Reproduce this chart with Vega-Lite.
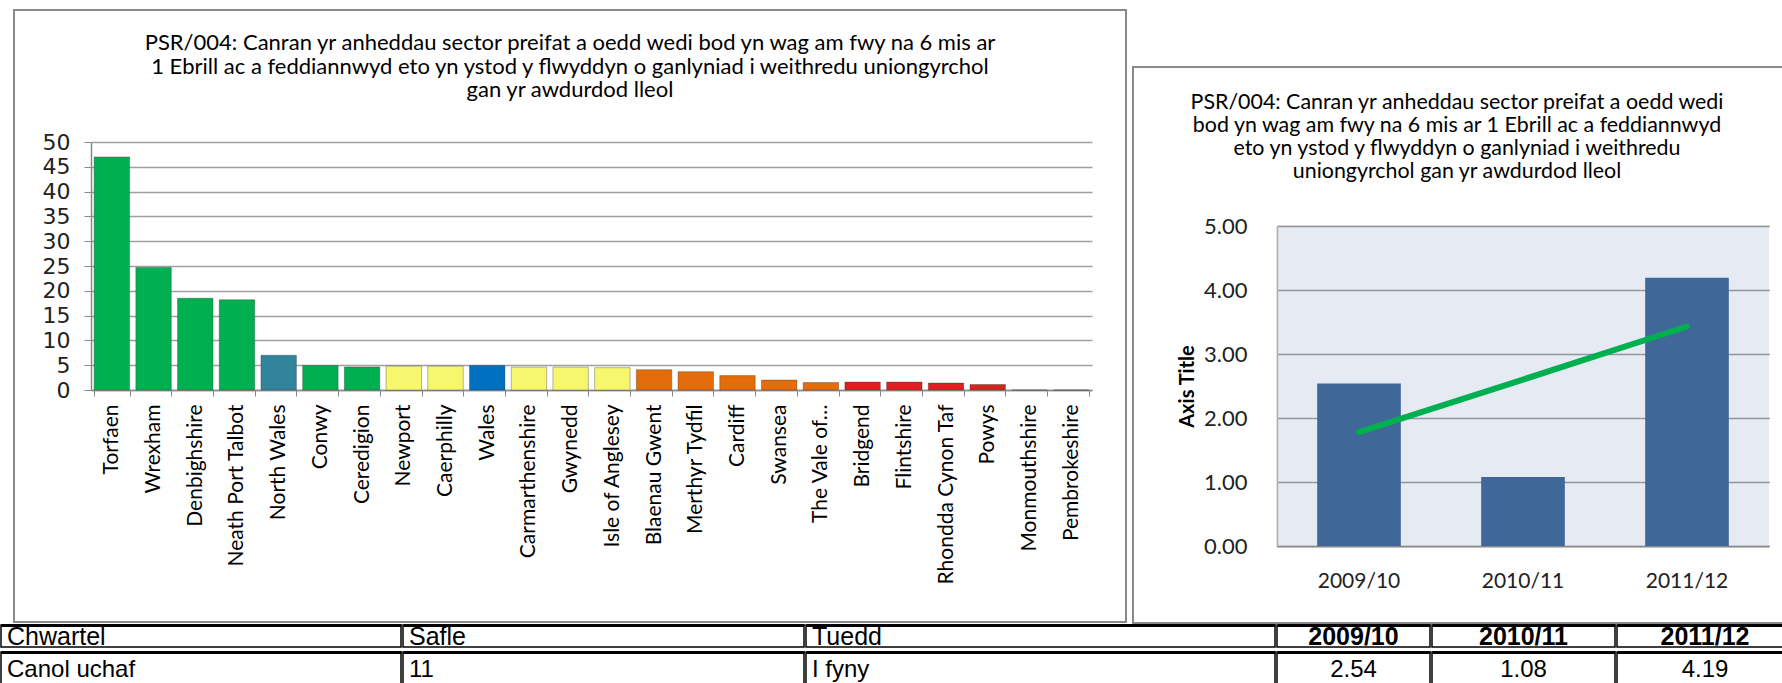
{
  "$schema": "https://vega.github.io/schema/vega-lite/v6.json",
  "padding": {"top": 9, "left": 0, "right": 0, "bottom": 0},
  "background": "white",
  "config": {"font": "Lato", "view": {"stroke": null}},
  "datasets": {
    "la": [
      {"area": "Torfaen", "value": 47.0, "group": "Chwartel uchaf"},
      {"area": "Wrexham", "value": 24.7, "group": "Chwartel uchaf"},
      {"area": "Denbighshire", "value": 18.5, "group": "Chwartel uchaf"},
      {"area": "Neath Port Talbot", "value": 18.2, "group": "Chwartel uchaf"},
      {"area": "North Wales", "value": 7.0, "group": "North Wales"},
      {"area": "Conwy", "value": 4.95, "group": "Chwartel uchaf"},
      {"area": "Ceredigion", "value": 4.65, "group": "Chwartel uchaf"},
      {"area": "Newport", "value": 4.8, "group": "Canol uchaf"},
      {"area": "Caerphilly", "value": 4.8, "group": "Canol uchaf"},
      {"area": "Wales", "value": 4.95, "group": "Wales"},
      {"area": "Carmarthenshire", "value": 4.6, "group": "Canol uchaf"},
      {"area": "Gwynedd", "value": 4.6, "group": "Canol uchaf"},
      {"area": "Isle of Anglesey", "value": 4.5, "group": "Canol uchaf"},
      {"area": "Blaenau Gwent", "value": 4.1, "group": "Canol isaf"},
      {"area": "Merthyr Tydfil", "value": 3.7, "group": "Canol isaf"},
      {"area": "Cardiff", "value": 2.9, "group": "Canol isaf"},
      {"area": "Swansea", "value": 2.0, "group": "Canol isaf"},
      {"area": "The Vale of…", "value": 1.5, "group": "Canol isaf"},
      {"area": "Bridgend", "value": 1.6, "group": "Chwartel isaf"},
      {"area": "Flintshire", "value": 1.6, "group": "Chwartel isaf"},
      {"area": "Rhondda Cynon Taf", "value": 1.4, "group": "Chwartel isaf"},
      {"area": "Powys", "value": 1.1, "group": "Chwartel isaf"},
      {"area": "Monmouthshire", "value": 0, "group": "Chwartel isaf"},
      {"area": "Pembrokeshire", "value": 0, "group": "Chwartel isaf"}
    ],
    "ps": [
      {"period": "2009/10", "value": 2.54, "trend": 1.78},
      {"period": "2010/11", "value": 1.08, "trend": 2.60},
      {"period": "2011/12", "value": 4.19, "trend": 3.43}
    ],
    "table": [
      {"col": "c1", "row": "h", "text": "Chwartel"},
      {"col": "c1", "row": "v", "text": "Canol uchaf"},
      {"col": "c2", "row": "h", "text": "Safle"},
      {"col": "c2", "row": "v", "text": "11"},
      {"col": "c3", "row": "h", "text": "Tuedd"},
      {"col": "c3", "row": "v", "text": "I fyny"},
      {"col": "c4", "row": "h", "text": "2009/10"},
      {"col": "c4", "row": "v", "text": "2.54"},
      {"col": "c5", "row": "h", "text": "2010/11"},
      {"col": "c5", "row": "v", "text": "1.08"},
      {"col": "c6", "row": "h", "text": "2011/12"},
      {"col": "c6", "row": "v", "text": "4.19"}
    ],
    "blank": [{"t": ""}]
  },
  "spacing": 0,
  "vconcat": [
    {
      "spacing": 5,
      "hconcat": [
        {
          "spacing": 0,
          "hconcat": [
            {
              "width": 1, "height": 10,
              "data": {"name": "blank"},
              "mark": {"type": "text"},
              "encoding": {"text": {"field": "t"}}
            },
            {
              "width": 1112, "height": 612,
              "view": {"stroke": "#8A8A8A", "strokeWidth": 2},
              "title": {
                "text": [
                  "PSR/004: Canran yr anheddau sector preifat a oedd wedi bod yn wag am fwy na 6 mis ar",
                  "1 Ebrill ac a feddiannwyd eto yn ystod y flwyddyn o ganlyniad i weithredu uniongyrchol",
                  "gan yr awdurdod lleol"
                ],
                "offset": -92, "anchor": "middle", "frame": "group",
                "font": "Lato", "fontSize": 22, "fontWeight": "normal", "lineHeight": 23.5, "color": "#000"
              },
              "data": {"name": "la"},
              "mark": {"type": "bar", "stroke": "#333", "strokeOpacity": 0.35, "strokeWidth": 1},
              "encoding": {
                "x": {
                  "field": "area", "type": "nominal", "sort": null,
                  "scale": {"range": [77, 1078], "paddingInner": 0.15, "paddingOuter": 0.075},
                  "axis": {
                    "title": null, "orient": "bottom", "offset": -232, "labelAngle": -90,
                    "labelFont": "Lato", "labelFontSize": 21, "labelColor": "#000", "labelPadding": 8,
                    "labelLimit": 400, "labelOverlap": false, "tickBand": "extent", "tickSize": 6,
                    "tickColor": "#888", "domainColor": "#888", "domainWidth": 1.5, "grid": false
                  }
                },
                "y": {
                  "field": "value", "type": "quantitative",
                  "scale": {"domain": [0, 50], "range": [380, 132], "nice": false},
                  "axis": {
                    "title": null, "offset": -77, "values": [0, 5, 10, 15, 20, 25, 30, 35, 40, 45, 50],
                    "grid": true, "gridColor": "#A0A0A0", "gridWidth": 1.5, "tickSize": 7,
                    "tickColor": "#888", "domainColor": "#888", "domainWidth": 1.5,
                    "labelFont": "DejaVu Sans", "labelFontSize": 22, "labelColor": "#222", "labelPadding": 14, "zindex": 0
                  }
                },
                "color": {
                  "field": "group", "type": "nominal",
                  "scale": {
                    "domain": ["Chwartel uchaf", "North Wales", "Canol uchaf", "Wales", "Canol isaf", "Chwartel isaf"],
                    "range": ["#00B050", "#31849B", "#F7F76E", "#0070C0", "#E46C0A", "#DD2020"]
                  },
                  "legend": null
                }
              }
            }
          ]
        },
        {
          "spacing": 0,
          "vconcat": [
            {
              "width": 692, "height": 56,
              "data": {"name": "blank"},
              "mark": {"type": "text"},
              "encoding": {"text": {"field": "t"}}
            },
            {
              "width": 692, "height": 556,
              "view": {"stroke": "#8A8A8A", "strokeWidth": 2},
              "title": {
                "text": [
                  "PSR/004: Canran yr anheddau sector preifat a oedd wedi",
                  "bod yn wag am fwy na 6 mis ar 1 Ebrill ac a feddiannwyd",
                  "eto yn ystod y flwyddyn o ganlyniad i weithredu",
                  "uniongyrchol gan yr awdurdod lleol"
                ],
                "offset": -115, "dx": -22, "anchor": "middle", "frame": "group",
                "font": "Lato", "fontSize": 21.4, "fontWeight": "normal", "lineHeight": 23, "color": "#000"
              },
              "data": {"name": "ps"},
              "resolve": {"scale": {"x": "independent"}},
              "layer": [
                {
                  "mark": {"type": "rect", "fill": "#CDD7E7", "opacity": 0.5},
                  "encoding": {
                    "x": {"field": "period", "type": "nominal", "scale": {"range": [144, 636], "paddingInner": 0, "paddingOuter": 0}, "axis": null},
                    "y": {
                      "datum": 5, "type": "quantitative",
                      "scale": {"domain": [0, 5], "range": [479, 159], "nice": false},
                      "axis": {
                        "title": "Axis Title", "offset": -144, "values": [0, 1, 2, 3, 4, 5], "format": ".2f",
                        "grid": true, "gridColor": "#555", "gridWidth": 1.5, "ticks": false,
                        "domainColor": "#888", "domainWidth": 1.5, "zindex": 0,
                        "labelFont": "Lato", "labelFontSize": 22, "labelColor": "#222", "labelPadding": 30,
                        "titleFont": "Lato", "titleFontSize": 20, "titleFontWeight": "bold", "titleColor": "#000", "titlePadding": 6
                      }
                    },
                    "y2": {"datum": 0}
                  }
                },
                {
                  "encoding": {
                    "x": {
                      "field": "period", "type": "nominal",
                      "scale": {"range": [144, 636], "paddingInner": 0.49, "paddingOuter": 0.245},
                      "axis": {
                        "title": null, "orient": "bottom", "offset": -77, "labelAngle": 0,
                        "labelFont": "Lato", "labelFontSize": 21, "labelColor": "#222", "labelPadding": 24,
                        "ticks": false, "domainColor": "#888", "domainWidth": 1.5
                      }
                    }
                  },
                  "layer": [
                    {
                      "mark": {"type": "bar", "fill": "#3F6797"},
                      "encoding": {
                        "y": {
                          "field": "value", "type": "quantitative",
                          "scale": {"domain": [0, 5], "range": [479, 159], "nice": false},
                          "axis": {
                            "title": "Axis Title", "offset": -144, "values": [0, 1, 2, 3, 4, 5], "format": ".2f",
                            "grid": true, "gridColor": "#555", "gridWidth": 1.5, "ticks": false,
                            "domainColor": "#888", "domainWidth": 1.5, "zindex": 0,
                            "labelFont": "Lato", "labelFontSize": 22, "labelColor": "#222", "labelPadding": 30,
                            "titleFont": "Lato", "titleFontSize": 20, "titleFontWeight": "bold", "titleColor": "#000", "titlePadding": 6
                          }
                        }
                      }
                    },
                    {
                      "mark": {"type": "line", "color": "#00B050", "strokeWidth": 6, "strokeCap": "round"},
                      "encoding": {
                        "y": {"field": "trend", "type": "quantitative"}
                      }
                    }
                  ]
                }
              ]
            }
          ]
        }
      ]
    },
    {
      "spacing": 0,
      "data": {"name": "table"},
      "vconcat": [
        {
          "spacing": 0,
          "hconcat": [
            {
              "width": 400, "height": 22, "view": {"stroke": "#000", "strokeWidth": 1.5},
              "transform": [{"filter": "datum.col == 'c1' && datum.row == 'h'"}],
              "mark": {"type": "text", "align": "left", "dx": -194, "dy": 1, "baseline": "middle", "font": "Liberation Sans", "fontSize": 25, "color": "#000"},
              "encoding": {
                "x": {"field": "col", "type": "nominal", "scale": {"paddingInner": 0, "paddingOuter": 0},
                      "axis": {"orient": "top", "title": null, "labels": false, "ticks": false, "grid": false, "domainColor": "#000", "domainWidth": 3}},
                "text": {"field": "text"}
              }
            },
            {
              "width": 401, "height": 22, "view": {"stroke": "#000", "strokeWidth": 1.5},
              "transform": [{"filter": "datum.col == 'c2' && datum.row == 'h'"}],
              "mark": {"type": "text", "align": "left", "dx": -194.5, "dy": 1, "baseline": "middle", "font": "Liberation Sans", "fontSize": 25, "color": "#000"},
              "encoding": {
                "x": {"field": "col", "type": "nominal", "scale": {"paddingInner": 0, "paddingOuter": 0},
                      "axis": {"orient": "top", "title": null, "labels": false, "ticks": false, "grid": false, "domainColor": "#000", "domainWidth": 3}},
                "text": {"field": "text"}
              }
            },
            {
              "width": 469, "height": 22, "view": {"stroke": "#000", "strokeWidth": 1.5},
              "transform": [{"filter": "datum.col == 'c3' && datum.row == 'h'"}],
              "mark": {"type": "text", "align": "left", "dx": -228.5, "dy": 1, "baseline": "middle", "font": "Liberation Sans", "fontSize": 25, "color": "#000"},
              "encoding": {
                "x": {"field": "col", "type": "nominal", "scale": {"paddingInner": 0, "paddingOuter": 0},
                      "axis": {"orient": "top", "title": null, "labels": false, "ticks": false, "grid": false, "domainColor": "#000", "domainWidth": 3}},
                "text": {"field": "text"}
              }
            },
            {
              "width": 153, "height": 22, "view": {"stroke": "#000", "strokeWidth": 1.5},
              "transform": [{"filter": "datum.col == 'c4' && datum.row == 'h'"}],
              "mark": {"type": "text", "align": "center", "dy": 1, "baseline": "middle", "font": "Liberation Sans", "fontSize": 25, "fontWeight": "bold", "color": "#000"},
              "encoding": {
                "x": {"field": "col", "type": "nominal", "scale": {"paddingInner": 0, "paddingOuter": 0},
                      "axis": {"orient": "top", "title": null, "labels": false, "ticks": false, "grid": false, "domainColor": "#000", "domainWidth": 3}},
                "text": {"field": "text"}
              }
            },
            {
              "width": 183, "height": 22, "view": {"stroke": "#000", "strokeWidth": 1.5},
              "transform": [{"filter": "datum.col == 'c5' && datum.row == 'h'"}],
              "mark": {"type": "text", "align": "center", "dy": 1, "baseline": "middle", "font": "Liberation Sans", "fontSize": 25, "fontWeight": "bold", "color": "#000"},
              "encoding": {
                "x": {"field": "col", "type": "nominal", "scale": {"paddingInner": 0, "paddingOuter": 0},
                      "axis": {"orient": "top", "title": null, "labels": false, "ticks": false, "grid": false, "domainColor": "#000", "domainWidth": 3}},
                "text": {"field": "text"}
              }
            },
            {
              "width": 176, "height": 22, "view": {"stroke": "#000", "strokeWidth": 1.5},
              "transform": [{"filter": "datum.col == 'c6' && datum.row == 'h'"}],
              "mark": {"type": "text", "align": "center", "dy": 1, "baseline": "middle", "font": "Liberation Sans", "fontSize": 25, "fontWeight": "bold", "color": "#000"},
              "encoding": {
                "x": {"field": "col", "type": "nominal", "scale": {"paddingInner": 0, "paddingOuter": 0},
                      "axis": {"orient": "top", "title": null, "labels": false, "ticks": false, "grid": false, "domainColor": "#000", "domainWidth": 3}},
                "text": {"field": "text"}
              }
            }
          ]
        },
        {
          "spacing": 0,
          "hconcat": [
            {
              "width": 400, "height": 36, "view": {"stroke": "#000", "strokeWidth": 1.5},
              "transform": [{"filter": "datum.col == 'c1' && datum.row == 'v'"}],
              "mark": {"type": "text", "align": "left", "dx": -194, "baseline": "middle", "font": "Liberation Sans", "fontSize": 24, "color": "#000"},
              "encoding": {
                "x": {"field": "col", "type": "nominal", "scale": {"paddingInner": 0, "paddingOuter": 0},
                      "axis": {"orient": "top", "title": null, "labels": false, "ticks": false, "grid": false, "domainColor": "#000", "domainWidth": 3}},
                "text": {"field": "text"}
              }
            },
            {
              "width": 401, "height": 36, "view": {"stroke": "#000", "strokeWidth": 1.5},
              "transform": [{"filter": "datum.col == 'c2' && datum.row == 'v'"}],
              "mark": {"type": "text", "align": "left", "dx": -194.5, "baseline": "middle", "font": "Liberation Sans", "fontSize": 24, "color": "#000"},
              "encoding": {
                "x": {"field": "col", "type": "nominal", "scale": {"paddingInner": 0, "paddingOuter": 0},
                      "axis": {"orient": "top", "title": null, "labels": false, "ticks": false, "grid": false, "domainColor": "#000", "domainWidth": 3}},
                "text": {"field": "text"}
              }
            },
            {
              "width": 469, "height": 36, "view": {"stroke": "#000", "strokeWidth": 1.5},
              "transform": [{"filter": "datum.col == 'c3' && datum.row == 'v'"}],
              "mark": {"type": "text", "align": "left", "dx": -228.5, "baseline": "middle", "font": "Liberation Sans", "fontSize": 24, "color": "#000"},
              "encoding": {
                "x": {"field": "col", "type": "nominal", "scale": {"paddingInner": 0, "paddingOuter": 0},
                      "axis": {"orient": "top", "title": null, "labels": false, "ticks": false, "grid": false, "domainColor": "#000", "domainWidth": 3}},
                "text": {"field": "text"}
              }
            },
            {
              "width": 153, "height": 36, "view": {"stroke": "#000", "strokeWidth": 1.5},
              "transform": [{"filter": "datum.col == 'c4' && datum.row == 'v'"}],
              "mark": {"type": "text", "align": "center", "baseline": "middle", "font": "Liberation Sans", "fontSize": 24, "color": "#000"},
              "encoding": {
                "x": {"field": "col", "type": "nominal", "scale": {"paddingInner": 0, "paddingOuter": 0},
                      "axis": {"orient": "top", "title": null, "labels": false, "ticks": false, "grid": false, "domainColor": "#000", "domainWidth": 3}},
                "text": {"field": "text"}
              }
            },
            {
              "width": 183, "height": 36, "view": {"stroke": "#000", "strokeWidth": 1.5},
              "transform": [{"filter": "datum.col == 'c5' && datum.row == 'v'"}],
              "mark": {"type": "text", "align": "center", "baseline": "middle", "font": "Liberation Sans", "fontSize": 24, "color": "#000"},
              "encoding": {
                "x": {"field": "col", "type": "nominal", "scale": {"paddingInner": 0, "paddingOuter": 0},
                      "axis": {"orient": "top", "title": null, "labels": false, "ticks": false, "grid": false, "domainColor": "#000", "domainWidth": 3}},
                "text": {"field": "text"}
              }
            },
            {
              "width": 176, "height": 36, "view": {"stroke": "#000", "strokeWidth": 1.5},
              "transform": [{"filter": "datum.col == 'c6' && datum.row == 'v'"}],
              "mark": {"type": "text", "align": "center", "baseline": "middle", "font": "Liberation Sans", "fontSize": 24, "color": "#000"},
              "encoding": {
                "x": {"field": "col", "type": "nominal", "scale": {"paddingInner": 0, "paddingOuter": 0},
                      "axis": {"orient": "top", "title": null, "labels": false, "ticks": false, "grid": false, "domainColor": "#000", "domainWidth": 3}},
                "text": {"field": "text"}
              }
            }
          ]
        }
      ]
    }
  ]
}
